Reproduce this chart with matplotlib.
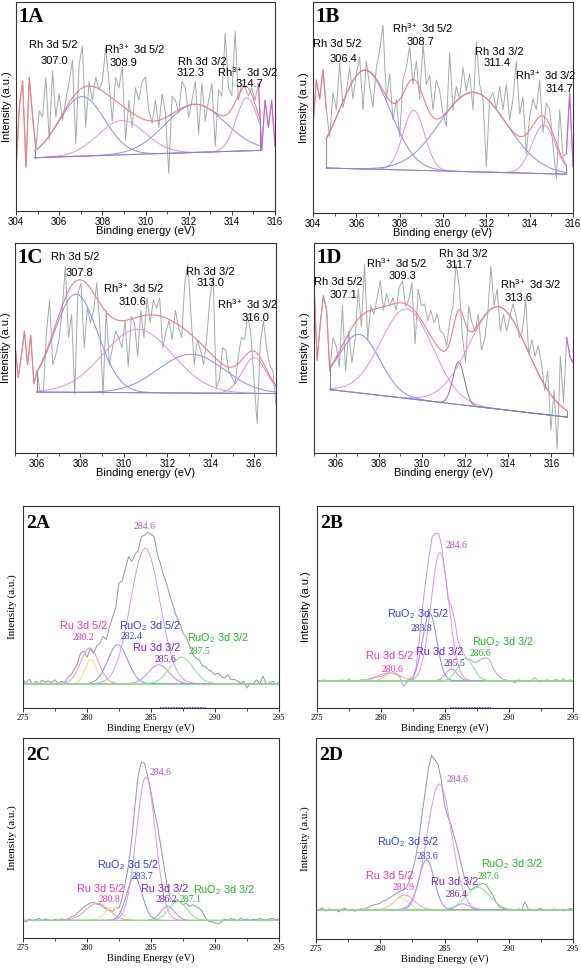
import numpy as np
import matplotlib
matplotlib.use("Agg")
import matplotlib.pyplot as plt

plt.rcParams['font.family'] = ['Liberation Sans', 'DejaVu Sans']
plt.rcParams['mathtext.fontset'] = 'custom'
plt.rcParams['mathtext.rm'] = 'Liberation Sans'
plt.rcParams['mathtext.it'] = 'Liberation Sans'
plt.rcParams['mathtext.sf'] = 'Liberation Sans'

# ======================= DATA =======================
# ---- Rh 3d spectra (relative intensity, evenly sampled over the panel's energy range)
range_1a = [304.0, 316.0]
raw_1a = [19, 50, 62, 21, 64, 45, 30, 48, 45, 64, 34, 67, 45, 56, 43, 53, 62, 72, 32, 70,
          79, 40, 62, 53, 64, 58, 62, 78, 62, 43, 64, 59, 69, 34, 53, 40, 59, 53, 62, 64,
          48, 42, 53, 40, 56, 47, 18, 55, 53, 47, 62, 59, 45, 53, 62, 37, 61, 43, 53, 61,
          31, 58, 55, 85, 59, 55, 86, 53, 61, 59, 55, 59, 53, 61, 29, 53, 40, 53, 31]
range_1b = [304.0, 316.0]
raw_1b = [41, 63, 54, 68, 49, 36, 57, 49, 71, 50, 57, 69, 54, 66, 74, 49, 72, 60, 50, 69,
          77, 89, 54, 66, 44, 54, 36, 63, 69, 79, 61, 72, 54, 80, 61, 65, 49, 63, 58, 47,
          41, 76, 49, 60, 54, 69, 58, 66, 49, 81, 61, 54, 22, 54, 57, 49, 60, 49, 61, 44,
          54, 72, 47, 55, 28, 46, 54, 49, 63, 38, 52, 49, 32, 16, 49, 27, 28, 57, 22]
range_1c = [305.0, 317.0]
raw_1c = [52, 36, 46, 58, 42, 56, 33, 39, 29, 29, 57, 73, 42, 47, 54, 68, 89, 55, 66,
          28, 76, 81, 50, 69, 62, 68, 81, 60, 28, 68, 42, 50, 58, 55, 50, 63, 41, 65, 62,
          46, 68, 55, 74, 62, 73, 69, 74, 50, 58, 63, 54, 68, 60, 55, 81, 90, 65, 42, 54,
          49, 42, 55, 74, 84, 31, 35, 50, 49, 39, 36, 33, 46, 55, 54, 65, 57, 35, 14, 52,
          63, 50, 42, 39, 23]
range_1d = [305.0, 317.0]
raw_1d = [81, 44, 62, 75, 68, 39, 55, 51, 41, 70, 39, 58, 43, 54, 78, 60,
          90, 54, 70, 66, 74, 82, 68, 76, 70, 74, 68, 79, 82, 70, 73, 81, 52, 78, 70, 71,
          63, 68, 62, 66, 58, 57, 51, 63, 70, 90, 79, 55, 43, 70, 62, 58, 66, 49, 54, 66,
          89, 70, 78, 58, 66, 58, 65, 71, 65, 55, 58, 73, 47, 54, 46, 51, 43, 30, 39, 11,
          30, 2, 46, 24, 55, 46, 43]

# fitted components (centre eV, height, sigma eV) and linear background
fit_window_1a = [304.86, 315.29]
fit_bg_1a = [25.5, 29.0]
center_1a = [307.05, 308.9, 312.3, 314.7]
height_1a = [28.5, 16.4, 23.0, 25.4]
sigma_1a = [1.05, 1.1, 1.39, 0.5]

fit_window_1b = [304.62, 315.68]
fit_bg_1b = [21.3, 18.4]
center_1b = [306.4, 308.65, 311.4, 314.65]
height_1b = [46.8, 28.4, 37.7, 23.0]
sigma_1b = [1.15, 0.5, 1.55, 0.54]

fit_window_1c = [306.0, 317.0]
fit_bg_1c = [29.0, 28.3]
center_1c = [307.8, 310.65, 313.1, 316.0]
height_1c = [46.8, 30.2, 18.5, 17.0]
sigma_1c = [1.0, 1.6, 1.52, 0.55]

fit_window_1d = [305.74, 316.72]
fit_bg_1d = [30.2, 17.1]
center_1d = [307.1, 309.3, 311.7, 313.55]
height_1d = [27.9, 42.6, 20.2, 48.7]
sigma_1d = [0.95, 1.2, 0.27, 1.35]

rh_labels = ['Rh 3d 5/2', 'Rh$^{3+}$ 3d 5/2', 'Rh 3d 3/2', 'Rh$^{3+}$ 3d 3/2']
values_1a = ['307.0', '308.9', '312.3', '314.7']
values_1b = ['306.4', '308.7', '311.4', '314.7']
values_1c = ['307.8', '310.6', '313.0', '316.0']
values_1d = ['307.1', '309.3', '311.7', '313.6']

# ---- Ru 3d / C 1s spectra (275-295 eV, evenly sampled)
range_2 = [275.0, 295.0]
raw_2a = [14.0, 12.4, 14.3, 11.5, 13.2, 12.0, 13.7, 12.7, 13.5, 12.4,
          14.0, 12.0, 13.2, 12.7, 15.0, 16.5, 19.0, 22.0, 27.2, 28.0,
          25.0, 29.5, 27.0, 30.5, 32.1, 35.4, 33.8, 40.0, 45.0, 50.0,
          62.0, 63.0, 69.0, 75.0, 72.5, 76.0, 78.0, 85.0, 85.5, 87.0,
          86.0, 84.8, 76.0, 71.0, 65.5, 61.0, 55.0, 50.0, 45.0, 42.0,
          37.0, 35.0, 31.0, 27.0, 24.7, 23.9, 21.0, 20.5, 18.9, 18.0,
          16.5, 17.3, 15.7, 14.8, 16.5, 14.0, 14.3, 13.2, 12.4, 13.2,
          9.9, 12.4, 12.0, 14.0, 12.0, 15.7, 12.0, 12.4, 13.2, 12.0, 12.5]
raw_2b = [13.5, 13.0, 14.0, 13.2, 13.8, 12.8, 13.6, 13.3, 14.0, 13.0,
          14.5, 13.2, 13.8, 13.0, 14.2, 13.5, 13.8, 14.5, 15.0, 15.5,
          15.6, 16.2, 17.0, 17.5, 17.3, 16.5, 15.0, 10.7, 12.5, 13.5,
          14.3, 20.6, 33.8, 50.2, 63.4, 75.0, 84.8, 86.5, 86.5, 79.9,
          66.7, 53.5, 50.2, 43.7, 33.8, 28.8, 26.4, 23.9, 23.9, 22.6,
          22.6, 23.9, 24.7, 24.7, 23.9, 19.8, 17.3, 15.7, 14.3, 14.0,
          13.2, 13.0, 12.5, 14.0, 13.2, 13.8, 12.8, 13.6, 15.0, 13.3,
          12.8, 13.5, 14.0, 13.0, 13.8, 14.2, 13.0, 14.5, 13.2, 14.0, 13.5]
raw_2c = [9.0, 8.0, 9.5, 8.5, 9.2, 9.8, 8.8, 9.5, 9.0, 8.6,
          9.3, 8.8, 9.6, 9.0, 9.5, 10.5, 11.0, 12.5, 14.0, 15.5,
          16.6, 17.4, 17.8, 17.0, 16.6, 15.5, 14.5, 14.0, 13.3, 15.0,
          15.0, 20.0, 28.2, 36.5, 49.8, 66.4, 81.4, 88.0, 87.2, 80.6,
          73.1, 64.0, 56.5, 46.5, 36.5, 26.6, 20.0, 18.3, 19.1, 18.3,
          16.6, 17.4, 15.8, 16.6, 15.8, 15.0, 13.3, 10.0, 8.3, 8.3,
          7.5, 7.0, 8.0, 9.5, 8.8, 9.8, 9.2, 8.5, 10.0, 9.0,
          9.6, 8.7, 9.4, 9.0, 9.8, 9.2, 8.9, 9.5, 9.8, 9.0, 9.5]
raw_2d = [14.0, 14.8, 15.5, 13.8, 15.0, 14.2, 14.6, 13.5, 14.8, 15.2,
          14.0, 14.5, 13.8, 14.6, 15.0, 14.8, 15.6, 16.4, 16.9, 17.3,
          17.8, 18.9, 19.4, 20.6, 21.6, 22.8, 23.6, 24.4, 25.2, 28.6,
          33.6, 40.2, 50.2, 61.8, 73.4, 85.0, 91.4, 89.2, 86.7, 79.2,
          66.8, 61.0, 56.8, 51.0, 45.2, 38.5, 31.9, 26.9, 24.4, 25.2,
          26.1, 27.2, 27.7, 26.9, 24.4, 21.9, 18.6, 16.1, 15.3, 14.9,
          14.5, 14.8, 14.2, 15.0, 14.4, 18.5, 15.0, 14.5, 14.0, 14.8,
          15.2, 14.3, 14.6, 14.0, 15.0, 14.4, 14.8, 13.9, 14.6, 15.2, 14.8]

# components: Ru 3d5/2, extra, RuO2 3d5/2, C 1s (284.6), Ru 3d3/2, RuO2 3d3/2
base_2 = {'2A': 12.0, '2B': 13.5, '2C': 8.8, '2D': 14.5}
center_2a = [280.2, 280.3, 282.4, 284.55, 285.6, 287.4]
height_2a = [17.7, 12.0, 19.3, 67.0, 9.4, 13.2]
sigma_2a = [0.7, 0.45, 0.78, 1.15, 0.8, 0.9]
center_2b = [280.6, 281.0, 283.8, 284.6, 285.5, 286.6]
height_2b = [3.8, 4.0, 33.5, 63.4, 5.8, 11.2]
sigma_2b = [0.9, 0.6, 0.55, 0.7, 0.45, 0.6]
center_2c = [280.8, 282.0, 283.7, 284.6, 286.3, 287.1]
height_2c = [8.6, 6.5, 21.9, 71.8, 7.0, 9.5]
sigma_2c = [0.9, 0.6, 0.6, 0.75, 0.55, 0.7]
center_2d = [281.9, 281.6, 283.6, 284.6, 286.4, 287.6]
height_2d = [7.4, 6.0, 24.9, 62.6, 3.0, 11.1]
sigma_2d = [0.75, 0.6, 0.6, 0.95, 0.5, 0.95]

ru_labels = ['Ru 3d 5/2', 'RuO$_2$ 3d 5/2', 'Ru 3d 3/2', 'RuO$_2$ 3d 3/2']
values_2a = ['280.2', '282.4', '285.6', '287.5', '284.6']
values_2b = ['280.6', '283.8', '285.5', '286.6', '284.6']
values_2c = ['280.8', '283.7', '286.2', '287.1', '284.6']
values_2d = ['281.9', '283.6', '286.4', '287.6', '284.6']

# ======================= STYLE / LAYOUT =======================
W, H = 581, 969
fig = plt.figure(figsize=(W / 100, H / 100), dpi=100)

def box(l, r, t, b):
    return [l / W, (H - b) / H, (r - l) / W, (b - t) / H]

GRAY = '#a3abab'
BLUE_C = '#8c8ce6'
PINK_C = '#e28ee6'
ENV = '#f07c8c'
BGL = '#7d86c0'
SPINE = '#333333'

def gauss(x, c, h, s):
    return h * np.exp(-(x - c) ** 2 / (2 * s ** 2))

def style_axes(ax, serif):
    for sp in ax.spines.values():
        sp.set_color(SPINE)
        sp.set_linewidth(0.8)
    ax.set_yticks([])
    ax.set_ylim(0, 100)

def rh_panel(rect, xr, raw, win, bg, cen, hei, sig, cols, tag, values, lpos, npos):
    ax = fig.add_axes(rect)
    style_axes(ax, False)
    raw = np.asarray(raw, float)
    e = np.linspace(xr[0], xr[1], len(raw))
    i0 = int(np.argmin(np.abs(e - win[0])))
    i1 = int(np.argmin(np.abs(e - win[1])))
    ax.plot(e, raw, color=GRAY, lw=0.7)
    ax.plot(e[:i0 + 1], raw[:i0 + 1], color=ENV, lw=0.8)
    ax.plot(e[i1:], raw[i1:], color='#d060d8', lw=0.8)
    x = np.linspace(win[0], win[1], 500)
    base = np.interp(x, win, bg)
    total = base.copy()
    for c, h, s, col in zip(cen, hei, sig, cols):
        g = gauss(x, c, h, s)
        total = total + g
        ax.plot(x, base + g, color=col, lw=0.7)
    ax.plot(x, base, color=BGL, lw=0.7)
    ax.plot(x, total, color=ENV, lw=0.8)
    ax.plot([win[0], win[0]], [bg[0], total[0]], color=BGL, lw=0.7)
    ax.plot([win[1], win[1]], [bg[1], total[-1]], color=BGL, lw=0.7)
    ax.set_xlim(xr)
    lo = int(np.ceil(xr[0] / 2) * 2)
    ax.set_xticks(np.arange(lo, xr[1] + 0.01, 2))
    ax.set_xticks(np.arange(np.ceil(xr[0]), xr[1] + 0.01, 1), minor=True)
    ax.tick_params(axis='x', which='major', direction='out', length=3, width=0.7,
                   labelsize=7, pad=1.5, color=SPINE)
    ax.tick_params(axis='x', which='minor', direction='out', length=1.8, width=0.6,
                   color=SPINE)
    ax.set_xlabel('Binding energy (eV)', fontsize=8, labelpad=-1)
    ax.set_ylabel('Intensity (a.u.)', fontsize=8, labelpad=3)
    ax.text(0.008, 0.975, tag, transform=ax.transAxes, family='Liberation Serif',
            fontweight='bold', fontsize=15, va='top', ha='left')
    for lab, val, lp, nps in zip(rh_labels, values, lpos, npos):
        ax.text(lp[0], lp[1], lab, fontsize=8, ha='center', va='center')
        ax.text(nps[0], nps[1], val, fontsize=8, ha='center', va='center')
    return ax

C_PINK = '#ff8ccc'
C_YEL = '#eee27a'
C_BLUE = '#8c8cf0'
C_MAIN = '#d898e8'
C_PURP = '#b88cf0'
C_GRN = '#8ee08e'
T_PINK = '#ff2cc0'
T_BLUE = '#3040e0'
T_PURP = '#7420d8'
T_GRN = '#22b422'
T_MAIN = '#c04cd0'

def ru_panel(rect, raw, base, cen, hei, sig, rawcol, tag, values, lpos, npos, mainpos,
             ysans=False, blue_mark=None):
    ax = fig.add_axes(rect)
    style_axes(ax, True)
    raw = np.asarray(raw, float)
    e = np.linspace(range_2[0], range_2[1], len(raw))
    x = np.linspace(range_2[0], range_2[1], 1000)
    cols = [C_PINK, C_YEL, C_BLUE, C_MAIN, C_PURP, C_GRN]
    ax.plot(e, raw, color=rawcol, lw=0.7)
    for c, h, s, col in zip(cen, hei, sig, cols):
        ax.plot(x, base + gauss(x, c, h, s), color=col, lw=0.7)
    ax.axhline(base, color=C_GRN, lw=0.7)
    ax.set_xlim(range_2)
    ax.set_xticks(np.arange(275, 295.1, 5))
    ax.set_xticks(np.arange(277.5, 295, 5), minor=True)
    ax.tick_params(axis='x', which='major', direction='out', length=3, width=0.7,
                   labelsize=6, pad=1.5, color=SPINE)
    ax.tick_params(axis='x', which='minor', direction='out', length=2.5, width=0.6,
                   color=SPINE)
    for lb in ax.get_xticklabels():
        lb.set_family('Liberation Serif')
    ax.set_xlabel('Binding Energy (eV)', fontsize=7.5, family='Liberation Serif', labelpad=1)
    if ysans:
        ax.set_ylabel('Intensity (a.u.)', fontsize=8, labelpad=4)
    else:
        ax.set_ylabel('Intensity (a.u.)', fontsize=8, family='Liberation Serif', labelpad=4)
    ax.text(0.012, 0.955, tag, transform=ax.transAxes, family='Liberation Serif',
            fontweight='bold', fontsize=14, va='top', ha='left')
    tcols = [T_PINK, T_BLUE, T_PURP, T_GRN]
    for lab, val, lp, nps, tc in zip(ru_labels, values[:4], lpos, npos, tcols):
        ax.text(lp[0], lp[1], lab, fontsize=7.8, color=tc, ha='center', va='center')
        ax.text(nps[0], nps[1], val, fontsize=7, color=tc, ha='center', va='center',
                family='Liberation Serif')
    ax.text(mainpos[0], mainpos[1], values[4], fontsize=7, color=T_MAIN, ha='center',
            va='center', family='Liberation Serif')
    if blue_mark is not None:
        ax.plot(blue_mark, [0, 0], color='#3050ff', lw=1.2, ls=(0, (1, 0.6)), clip_on=False)
    return ax

rh_cols_std = [BLUE_C, PINK_C, BLUE_C, PINK_C]

rh_panel(box(16, 275, 2, 211), range_1a, raw_1a, fit_window_1a, fit_bg_1a,
         center_1a, height_1a, sigma_1a, rh_cols_std, '1A', values_1a,
         [(305.73, 79.3), (309.5, 77.7), (312.64, 71.3), (314.76, 66.5)],
         [(305.8, 71.6), (309.0, 70.8), (312.1, 66.0), (314.83, 60.9)])
rh_panel(box(313, 573, 2, 213), range_1b, raw_1b, fit_window_1b, fit_bg_1b,
         center_1b, height_1b, sigma_1b, rh_cols_std, '1B', values_1b,
         [(305.13, 80.3), (309.06, 87.4), (312.61, 76.4), (314.74, 65.4)],
         [(305.4, 72.8), (308.98, 81.1), (312.5, 71.2), (315.36, 58.6)])
rh_panel(box(15, 276, 243, 453), range_1c, raw_1c, fit_window_1c, fit_bg_1c,
         center_1c, height_1c, sigma_1c, rh_cols_std, '1C', values_1c,
         [(307.75, 93.3), (310.45, 78.7), (313.98, 86.2), (315.7, 71.1)],
         [(307.98, 85.9), (310.42, 71.9), (313.98, 81.1), (316.06, 64.4)])
rh_panel(box(314, 573, 243, 453), range_1d, raw_1d, fit_window_1d, fit_bg_1d,
         center_1d, height_1d, sigma_1d, [BLUE_C, PINK_C, '#7a7a7a', PINK_C], '1D', values_1d,
         [(306.12, 81.4), (308.85, 90.2), (311.92, 94.9), (315.05, 80.3)],
         [(306.38, 75.1), (309.12, 84.3), (311.74, 89.7), (314.48, 73.8)])

ru_panel(box(23, 279, 506, 708), raw_2a, base_2['2A'], center_2a, height_2a, sigma_2a,
         '#8f9999', '2A', values_2a,
         [(279.73, 40.4), (284.92, 40.4), (285.44, 29.7), (290.25, 34.6)],
         [(279.73, 35.1), (283.5, 35.4), (286.17, 23.9), (288.82, 28.0)],
         (284.51, 89.8), blue_mark=[285.7, 289.3])
ru_panel(box(317, 573, 506, 708), raw_2b, base_2['2B'], center_2b, height_2b, sigma_2b,
         '#c898e2', '2B', values_2b,
         [(280.71, 25.5), (282.87, 46.5), (284.56, 27.5), (289.49, 32.5)],
         [(280.92, 19.3), (283.18, 39.4), (285.78, 22.2), (287.73, 27.2)],
         (285.9, 80.4), ysans=True, blue_mark=[285.4, 288.6])
ru_panel(box(23, 279, 738, 938), raw_2c, base_2['2C'], center_2c, height_2c, sigma_2c,
         '#8f9999', '2C', values_2c,
         [(281.08, 24.4), (283.23, 36.5), (286.04, 24.6), (290.69, 24.1)],
         [(281.73, 19.1), (284.32, 30.7), (286.22, 19.1), (288.12, 19.1)],
         (285.78, 82.6))
ru_panel(box(316, 573, 738, 939), raw_2d, base_2['2D'], center_2d, height_2d, sigma_2d,
         '#8f9999', '2D', values_2d,
         [(280.75, 31.4), (282.18, 48.2), (285.75, 28.6), (290.21, 37.2)],
         [(281.81, 25.6), (283.68, 41.0), (285.93, 22.3), (288.45, 31.1)],
         (285.98, 79.2))

fig.savefig('out.png', dpi=100)
